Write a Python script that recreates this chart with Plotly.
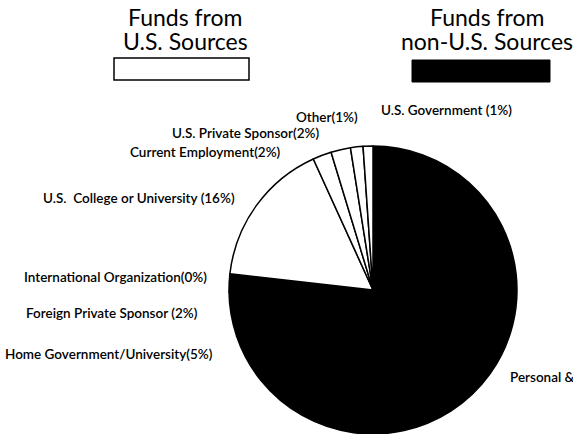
import plotly.graph_objects as go

W, H = 573, 434

categories = ["U.S. Government", "Other", "U.S. Private Sponsor", "Current Employment",
              "U.S. College or University", "International Organization",
              "Foreign Private Sponsor", "Home Government/University", "Personal & Family"]
shares = [1.1, 1.4, 2.2, 2.1, 16.4, 0.0, 2.0, 5.0, 69.8]
label_texts = ["U.S. Government (1%)", "Other(1%)", "U.S. Private Sponsor(2%)",
               "Current Employment(2%)", "U.S.  College or University (16%)",
               "International Organization(0%)", "Foreign Private Sponsor (2%)",
               "Home Government/University(5%)", "Personal & Family (71%)"]
source = ["US", "US", "US", "US", "US", "non-US", "non-US", "non-US", "non-US"]
legend_lines = [["Funds from", "U.S. Sources"], ["Funds from", "non-U.S. Sources"]]

colors = ["white" if s == "US" else "black" for s in source]

# label anchor positions (pixels) and alignment
label_pos = [(446, 110, "center"), (327, 117, "center"), (245, 133, "center"),
             (205, 152, "center"), (139, 198, "center"), (115, 277, "center"),
             (112, 313, "center"), (109, 354, "center"), (508, 377, "left")]

FONT = "Lato, 'Open Sans', sans-serif"

# drawn clockwise from 12 o'clock (reverse of counterclockwise list order)
fig = go.Figure(go.Pie(
    labels=categories[::-1], values=shares[::-1], sort=False, direction="clockwise",
    rotation=0, textinfo="none", hoverinfo="label+percent",
    marker=dict(colors=colors[::-1], line=dict(color="black", width=1.5)),
    domain=dict(x=[229 / W, 517 / W], y=[0, 288 / H]),
    showlegend=False,
))

def px(x):
    return x / W

def py(y):
    return 1 - y / H

annotations = []
for t, (x, y, al) in zip(label_texts, label_pos):
    annotations.append(dict(
        text=t, x=px(x), y=py(y), xref="paper", yref="paper",
        xanchor=al, yanchor="middle", showarrow=False,
        font=dict(family=FONT, size=13.5, color="black", weight=600)))

# legend-like headers
for lines, cx in zip(legend_lines, [185, 487]):
    for ln, cy in zip(lines, [17, 41]):
        annotations.append(dict(
            text=ln, x=px(cx), y=py(cy), xref="paper", yref="paper",
            xanchor="center", yanchor="middle", showarrow=False,
            font=dict(family=FONT, size=23, color="black")))

shapes = [
    dict(type="rect", xref="paper", yref="paper", x0=px(114), x1=px(249),
         y0=py(80), y1=py(58), fillcolor="white", line=dict(color="black", width=1.5)),
    dict(type="rect", xref="paper", yref="paper", x0=px(412), x1=px(550),
         y0=py(82), y1=py(60), fillcolor="black", line=dict(color="black", width=1)),
]

fig.update_layout(
    width=W, height=H, margin=dict(l=0, r=0, t=0, b=0),
    paper_bgcolor="white", plot_bgcolor="white",
    annotations=annotations, shapes=shapes,
)

fig.write_html("out.html", config={"displayModeBar": False},
               post_script="document.body.style.margin='0';")
